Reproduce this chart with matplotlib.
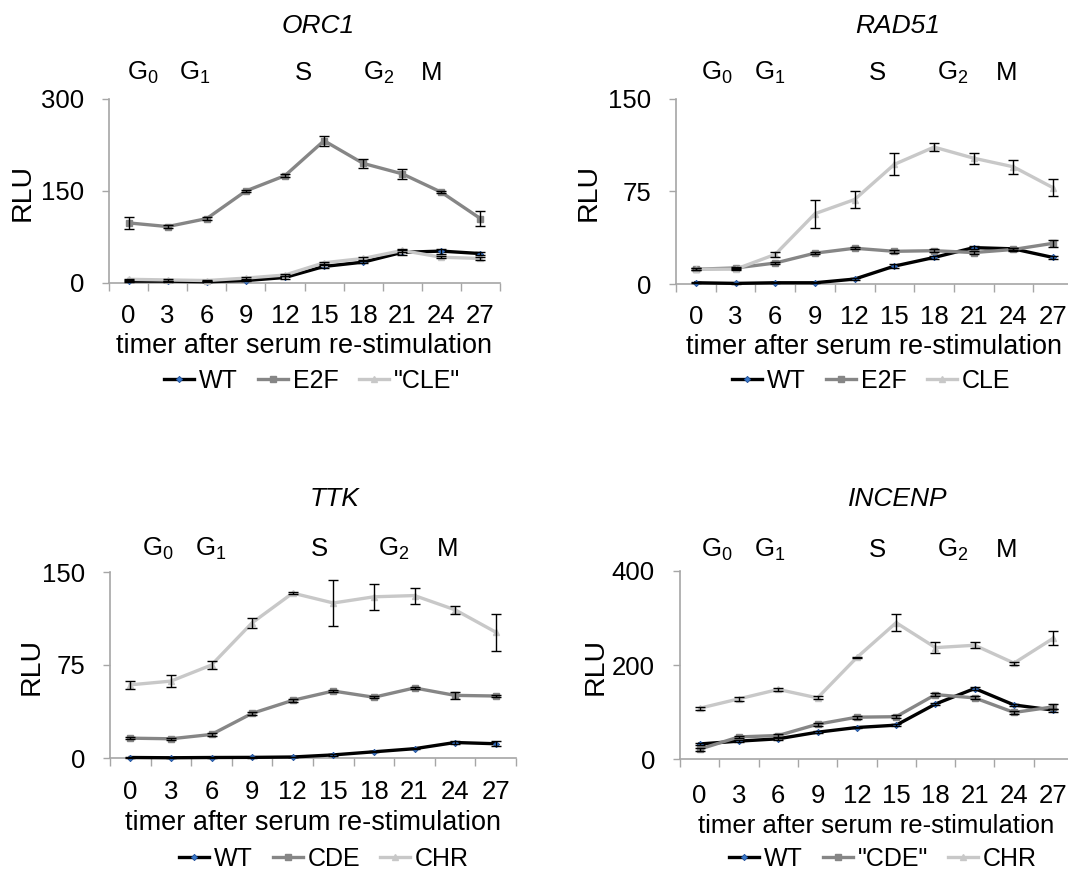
import numpy as np
import matplotlib
matplotlib.use("Agg")
import matplotlib.pyplot as plt

plt.rcParams['font.family'] = ['Liberation Sans', 'DejaVu Sans']
plt.rcParams['mathtext.fontset'] = 'custom'
plt.rcParams['mathtext.rm'] = 'Liberation Sans'
plt.rcParams['mathtext.it'] = 'Liberation Sans:italic'

# ---------------- data ----------------
hours = [0, 3, 6, 9, 12, 15, 18, 21, 24, 27]

orc1_wt = [3, 3, 2, 4, 9, 27, 34, 50, 52, 48]
orc1_wt_err = [1, 1, 1, 1, 2, 3, 2, 4, 4, 3]
orc1_e2f = [98, 92, 105, 150, 175, 232, 195, 178, 148, 105]
orc1_e2f_err = [10, 3, 2, 2, 2, 8, 7, 8, 2, 12]
orc1_cle = [6, 5, 4, 8, 13, 33, 40, 53, 42, 40]
orc1_cle_err = [1, 1, 1, 1, 1, 2, 2, 3, 2, 2]

rad51_wt = [1, 0.5, 1, 1, 4, 14.5, 21.5, 29.5, 28.5, 21.5]
rad51_wt_err = [0.5, 0.3, 0.3, 0.3, 0.5, 1.5, 1, 1, 1, 1]
rad51_e2f = [12, 13, 17, 25, 29, 26.5, 27, 25.5, 28, 33]
rad51_e2f_err = [1, 1, 1, 1, 1, 1, 1, 1, 1, 3]
rad51_cle = [12, 12, 24, 57, 68.5, 97, 111, 102, 95, 78]
rad51_cle_err = [1, 1, 2, 11.5, 7, 9, 3.5, 4.5, 5.5, 7]

ttk_wt = [0.4, 0.2, 0.4, 0.5, 0.8, 2.5, 5, 7.5, 12.5, 11.5]
ttk_wt_err = [0.3, 0.3, 0.3, 0.3, 0.3, 0.5, 0.5, 0.5, 1, 2]
ttk_cde = [16, 15.5, 19, 36, 46.5, 54, 49, 56.5, 50.5, 50]
ttk_cde_err = [1, 1, 1, 1, 1, 1, 1, 1, 3, 1]
ttk_chr = [59, 62, 75, 109, 133, 125, 130, 131, 119.5, 101.5]
ttk_chr_err = [3.5, 5, 3, 4, 1, 18.5, 10.5, 6.5, 3, 15]

incenp_wt = [32, 38, 43, 57, 67, 72, 117, 150, 115, 104]
incenp_wt_err = [2, 2, 2, 2, 2, 2, 3, 3, 3, 3]
incenp_cde = [21, 47, 50, 74, 89, 90, 137, 130, 99, 111]
incenp_cde_err = [3, 3, 3, 3, 3, 3, 3, 3, 3, 5]
incenp_chr = [108, 128, 148, 130, 216, 290, 237, 242, 204, 257]
incenp_chr_err = [3, 4, 3, 3, 2, 18, 11, 6, 3, 15]

genes = ['ORC1', 'RAD51', 'TTK', 'INCENP']
labels_orc1 = ['WT', 'E2F', '"CLE"']
labels_rad51 = ['WT', 'E2F', 'CLE']
labels_ttk = ['WT', 'CDE', 'CHR']
labels_incenp = ['WT', '"CDE"', 'CHR']
yticks_orc1 = [0, 150, 300]
yticks_rad51 = [0, 75, 150]
yticks_ttk = [0, 75, 150]
yticks_incenp = [0, 200, 400]
phases = ['G$_{0}$', 'G$_{1}$', 'S', 'G$_{2}$', 'M']
xlabel_text = 'timer after serum re-stimulation'

# ---------------- layout ----------------
W, H = 1068, 872
fig = plt.figure(figsize=(W / 100, H / 100), dpi=100)

GRAY_AX = '#A6A6A6'
styles = [
    dict(color='black', lw=2.4, marker='D', ms=3.2, mfc='#3A78C8', mec='#1F4E9A', mew=0.6),
    dict(color='#868686', lw=2.4, marker='s', ms=5, mfc='#868686', mec='#868686'),
    dict(color='#C8C8C8', lw=2.4, marker='^', ms=5, mfc='#C8C8C8', mec='#C8C8C8'),
]

panels = [
    dict(gene=genes[0], box=(109, 500, 99, 283), ylim=300, yticks=yticks_orc1,
         series=[(orc1_wt, orc1_wt_err), (orc1_e2f, orc1_e2f_err), (orc1_cle, orc1_cle_err)],
         labels=labels_orc1, title=(318, 33), rlu=(23, 192), leg=(312, 381),
         phase_x=[127, 179, 295, 363, 421], phase_y=80, tickpad=15, xlfs=19.5),
    dict(gene=genes[1], box=(676, 1073, 99, 284), ylim=150, yticks=yticks_rad51,
         series=[(rad51_wt, rad51_wt_err), (rad51_e2f, rad51_e2f_err), (rad51_cle, rad51_cle_err)],
         labels=labels_rad51, title=(898, 33), rlu=(589, 192), leg=(871, 381),
         phase_x=[701, 754, 869, 937, 996], phase_y=80, tickpad=15, xlfs=19.5),
    dict(gene=genes[2], box=(110, 516, 572, 758), ylim=150, yticks=yticks_ttk,
         series=[(ttk_wt, ttk_wt_err), (ttk_cde, ttk_cde_err), (ttk_chr, ttk_chr_err)],
         labels=labels_ttk, title=(335, 506), rlu=(32, 666), leg=(324, 859),
         phase_x=[142, 195, 311, 378, 437], phase_y=556, tickpad=16, xlfs=19.5),
    dict(gene=genes[3], box=(680, 1073, 571, 759), ylim=400, yticks=yticks_incenp,
         series=[(incenp_wt, incenp_wt_err), (incenp_cde, incenp_cde_err), (incenp_chr, incenp_chr_err)],
         labels=labels_incenp, title=(898, 506), rlu=(596, 666), leg=(883, 859),
         phase_x=[701, 754, 869, 937, 996], phase_y=557, tickpad=18, xlfs=18.5),
]

x = np.arange(len(hours))
for p in panels:
    x0, x1, yt, yb = p['box']
    ax = fig.add_axes([x0 / W, 1 - yb / H, (x1 - x0) / W, (yb - yt) / H])
    handles = []
    for (vals, errs), st, lab in zip(p['series'], styles, p['labels']):
        h, = ax.plot(x, vals, label=lab, zorder=3, clip_on=False, **st)
        handles.append(h)
    for vals, errs in p['series']:
        ax.errorbar(x, vals, yerr=errs, fmt='none', ecolor='black', elinewidth=1,
                    capsize=3.5, capthick=1, zorder=4, clip_on=False)
    ax.set_xlim(-0.5, len(hours) - 0.5)
    ax.set_ylim(0, p['ylim'])
    for s in ['top', 'right']:
        ax.spines[s].set_visible(False)
    for s in ['left', 'bottom']:
        ax.spines[s].set_color(GRAY_AX)
        ax.spines[s].set_linewidth(1.2)
    ax.set_xticks(np.arange(-0.5, len(hours), 1))
    ax.set_xticklabels([])
    ax.set_xticks(x, [str(h) for h in hours], minor=True)
    ax.tick_params(axis='x', which='major', length=6, color=GRAY_AX, width=1)
    ax.tick_params(axis='x', which='minor', length=0, pad=p['tickpad'], labelsize=18.5)
    ax.set_yticks(p['yticks'])
    ax.tick_params(axis='y', length=5, color=GRAY_AX, width=1, pad=13, labelsize=18.5)
    ax.set_xlabel(xlabel_text, fontsize=p['xlfs'], labelpad=4)
    ax.set_ylabel('RLU', fontsize=20.5, va='center', ha='center')
    rx, ry = p['rlu']
    ax.yaxis.set_label_coords((rx - x0) / (x1 - x0), (yb - ry) / (yb - yt))
    lx, ly = p['leg']
    ax.legend(handles=handles, loc='center', bbox_to_anchor=(lx / W, 1 - ly / H),
              bbox_transform=fig.transFigure, ncol=3, frameon=False, fontsize=18,
              handlelength=1.2, handletextpad=0.2, columnspacing=0.8,
              borderpad=0, borderaxespad=0, numpoints=1)
    tx, ty = p['title']
    fig.text(tx / W, 1 - ty / H, p['gene'], ha='center', va='baseline',
             fontsize=19, style='italic')
    for ph, px in zip(phases, p['phase_x']):
        fig.text(px / W, 1 - p['phase_y'] / H, ph, ha='left', va='baseline', fontsize=18.5)

fig.savefig('out.png', dpi=100)
